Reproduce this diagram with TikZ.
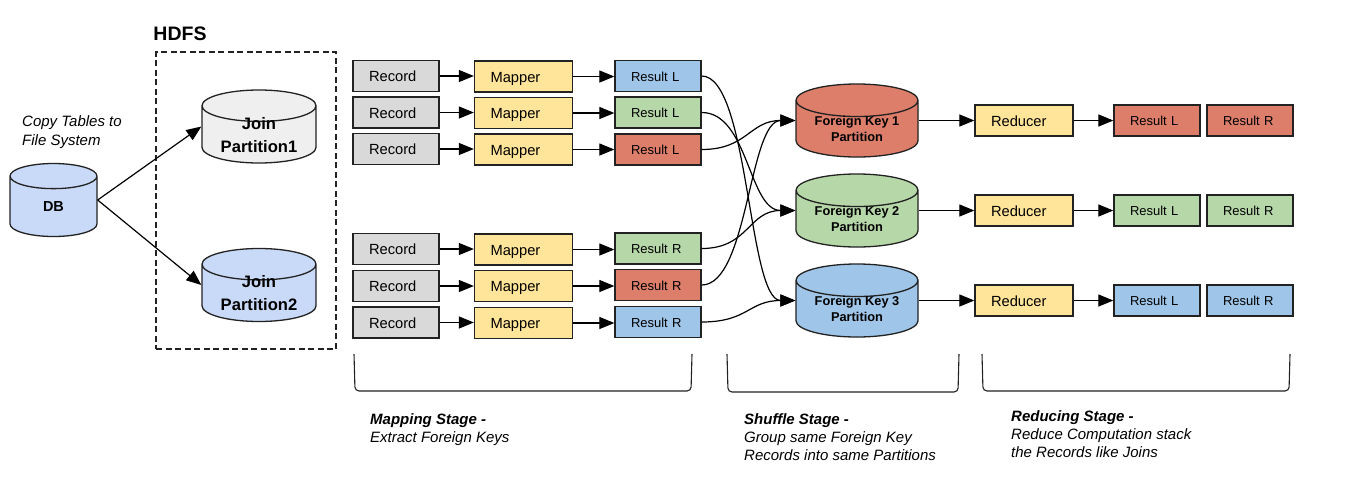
\documentclass[tikz,border=0pt]{standalone}
\usepackage{fontspec}
\setmainfont{Liberation Sans}
\usetikzlibrary{arrows.meta, shapes.geometric}

\definecolor{redfill}{HTML}{DD7E6B}
\definecolor{greenfill}{HTML}{B6D7A8}
\definecolor{bluefill}{HTML}{9FC5E8}
\definecolor{paleblue}{HTML}{C9DAF8}
\definecolor{yellowfill}{HTML}{FFE599}
\definecolor{grayfill}{HTML}{D9D9D9}
\definecolor{palegray}{HTML}{EFEFEF}
\definecolor{edgecol}{HTML}{222222}

\tikzset{
    box/.style={draw=edgecol, line width=1.3pt, inner sep=0pt, minimum height=31pt, align=left, text height=13pt, text depth=1.4pt, font=\fontsize{14.7}{17}\selectfont},
    recordbox/.style={box, fill=grayfill, minimum width=86pt, text width=54pt},
    mapperbox/.style={box, fill=yellowfill, minimum width=98pt, text width=66pt},
    resultbox/.style={box, minimum width=86pt, text width=54pt, text height=12pt, text depth=1.6pt, font=\fontsize{13}{15}\selectfont},
    drum/.style={cylinder, shape border rotate=90, draw=edgecol, line width=1.3pt, inner sep=0pt,
        minimum height=73pt, align=center, anchor=shape center},
    dbdrum/.style={drum, minimum width=87pt, aspect=1.2, font=\bfseries\fontsize{14.5}{16}\selectfont},
    joindrum/.style={drum, minimum width=114pt, aspect=0.41, inner ysep=-5pt, font=\bfseries\fontsize{16.6}{23}\selectfont},
    keydrum/.style={drum, minimum width=122pt, aspect=0.384, inner ysep=-1pt, font=\bfseries\fontsize{12.8}{16}\selectfont},
    link/.style={line width=1.2pt, black, -{Triangle[length=15pt,width=12pt]}},
    curvelink/.style={link, out=0, in=180},
    note/.style={align=left, anchor=north west, inner sep=0pt, font=\itshape\fontsize{15}{18}\selectfont},
    bracket/.style={line width=1.1pt, edgecol, rounded corners=4pt},
}

\begin{document}
\begin{tikzpicture}[x=1pt, y=-1pt]
            \useasboundingbox (0,0) rectangle (1356,482);

            \node[dbdrum, fill=paleblue] (DB) at (53.5,200) {DB};
            \node[joindrum, fill=palegray] (JoinA) at (259,126.5) {Join\\Partition1};
            \node[joindrum, fill=paleblue] (JoinB) at (259,285) {Join\\Partition2};

            \node[draw=edgecol, dash pattern=on 6pt off 3.5pt, line width=1.2pt, minimum width=180pt, minimum height=297pt, inner sep=0pt] (HDFSbox) at (246,200.5) {};
            \node[font=\bfseries\fontsize{19.5}{22}\selectfont] (HDFS) at (180,33.5) {HDFS};
            \node[note, font=\itshape\fontsize{15}{19}\selectfont] (CopyNote) at (22,115) {Copy Tables to\\File System};

            \node[recordbox] (RecA) at (396,76) {Record};
            \node[recordbox] (RecB) at (396,112.5) {Record};
            \node[recordbox] (RecC) at (396,149) {Record};
            \node[recordbox] (RecD) at (396,249) {Record};
            \node[recordbox] (RecE) at (396,286) {Record};
            \node[recordbox] (RecF) at (396,322.5) {Record};

            \node[mapperbox] (MapA) at (523.5,76.5) {Mapper};
            \node[mapperbox] (MapB) at (523.5,113) {Mapper};
            \node[mapperbox] (MapC) at (523.5,149.5) {Mapper};
            \node[mapperbox] (MapD) at (523.5,249.5) {Mapper};
            \node[mapperbox] (MapE) at (523.5,286) {Mapper};
            \node[mapperbox] (MapF) at (523.5,323) {Mapper};

            \node[resultbox, fill=bluefill] (ResA) at (658,76) {Result L};
            \node[resultbox, fill=greenfill] (ResB) at (658,112.5) {Result L};
            \node[resultbox, fill=redfill] (ResC) at (658,149.5) {Result L};
            \node[resultbox, fill=greenfill] (ResD) at (658,248.5) {Result R};
            \node[resultbox, fill=redfill] (ResE) at (658,285) {Result R};
            \node[resultbox, fill=bluefill] (ResF) at (658,322) {Result R};

            \node[keydrum, fill=redfill] (KeyA) at (857,120.5) {Foreign Key 1\\Partition};
            \node[keydrum, fill=greenfill] (KeyB) at (857,210.5) {Foreign Key 2\\Partition};
            \node[keydrum, fill=bluefill] (KeyC) at (857,300.5) {Foreign Key 3\\Partition};

            \node[mapperbox] (RedA) at (1024,120.5) {Reducer};
            \node[mapperbox] (RedB) at (1024,210.5) {Reducer};
            \node[mapperbox] (RedC) at (1024,300.5) {Reducer};

            \node[resultbox, fill=redfill] (OutAL) at (1157,120.5) {Result L};
            \node[resultbox, fill=redfill] (OutAR) at (1250,120.5) {Result R};
            \node[resultbox, fill=greenfill] (OutBL) at (1157,210.5) {Result L};
            \node[resultbox, fill=greenfill] (OutBR) at (1250,210.5) {Result R};
            \node[resultbox, fill=bluefill] (OutCL) at (1157,300.5) {Result L};
            \node[resultbox, fill=bluefill] (OutCR) at (1250,300.5) {Result R};

            \draw[link] (DB.east |- DB.shape center) -- (JoinA.west |- JoinA.shape center);
            \draw[link] (DB.east |- DB.shape center) -- (JoinB.west |- JoinB.shape center);

            \draw[link] (RecA) -- (RecA -| MapA.west);
            \draw[link] (RecB) -- (RecB -| MapB.west);
            \draw[link] (RecC) -- (RecC -| MapC.west);
            \draw[link] (RecD) -- (RecD -| MapD.west);
            \draw[link] (RecE) -- (RecE -| MapE.west);
            \draw[link] (RecF) -- (RecF -| MapF.west);

            \draw[link] (MapA) -- (MapA -| ResA.west);
            \draw[link] (MapB) -- (MapB -| ResB.west);
            \draw[link] (MapC) -- (MapC -| ResC.west);
            \draw[link] (MapD) -- (MapD -| ResD.west);
            \draw[link] (MapE) -- (MapE -| ResE.west);
            \draw[link] (MapF) -- (MapF -| ResF.west);

            \draw[curvelink, looseness=0.5] (ResA.east) to (KeyC.west |- KeyC.shape center);
            \draw[curvelink, looseness=0.88] (ResB.east) to (KeyB.west |- KeyB.shape center);
            \draw[curvelink, looseness=1.2] (ResC.east) to (KeyA.west |- KeyA.shape center);
            \draw[curvelink, looseness=1.2] (ResD.east) to (KeyB.west |- KeyB.shape center);
            \draw[curvelink, looseness=0.63] (ResE.east) to (KeyA.west |- KeyA.shape center);
            \draw[curvelink, looseness=1.25] (ResF.east) to (KeyC.west |- KeyC.shape center);

            \draw[link] (KeyA.east |- KeyA.shape center) -- (RedA);
            \draw[link] (KeyB.east |- KeyB.shape center) -- (RedB);
            \draw[link] (KeyC.east |- KeyC.shape center) -- (RedC);

            \draw[link] (RedA) -- (OutAL);
            \draw[link] (RedB) -- (OutBL);
            \draw[link] (RedC) -- (OutCL);

            \draw[bracket] (354,354) -- (355,391) -- (691,391) -- (692,354);
            \draw[bracket] (727,354) -- (728,392) -- (958,392) -- (959,354);
            \draw[bracket] (982,354) -- (983,391) -- (1289,391) -- (1290,354);

            \node[note] (MapNote) at (370,413) {\textbf{Mapping Stage -}\\Extract Foreign Keys};
            \node[note] (ShuffleNote) at (744,413) {\textbf{Shuffle Stage -}\\Group same Foreign Key\\Records into same Partitions};
            \node[note] (ReduceNote) at (1011,410) {\textbf{Reducing Stage -}\\Reduce Computation stack\\the Records like Joins};
\end{tikzpicture}
\end{document}
